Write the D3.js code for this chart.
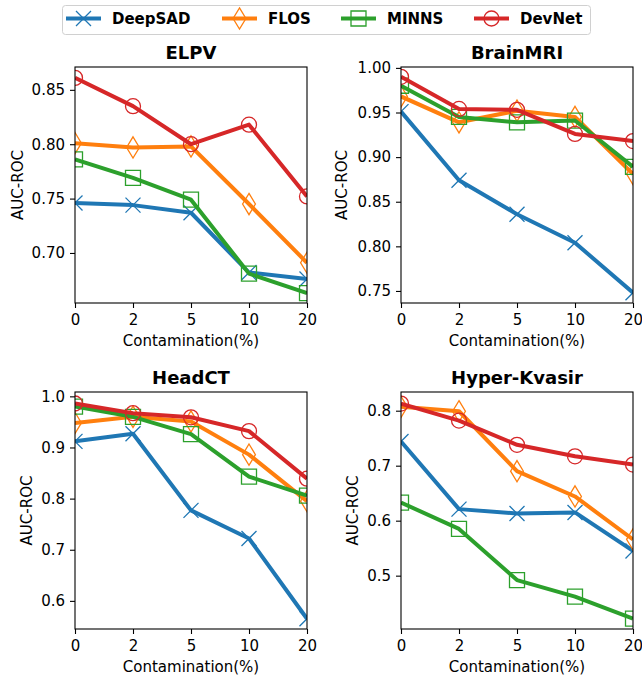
<!DOCTYPE html>
<html>
<head>
<meta charset="utf-8">
<script src="https://cdn.jsdelivr.net/npm/d3@7/dist/d3.min.js"></script>
<style>
body { margin: 0; background: #fff; }
text { font-family: "DejaVu Sans", sans-serif; fill: #000; }
</style>
</head>
<body>
<svg id="chart" width="642" height="676"></svg>
<script>
// contamination levels, shown as evenly spaced categories
const categories = ["0", "2", "5", "10", "20"];
const methods = ["DeepSAD", "FLOS", "MINNS", "DevNet"];
const colors = ["#1f77b4", "#ff7f0e", "#2ca02c", "#d62728"];
const markers = ["x", "thin_diamond", "square", "circle"];

// rows follow methods order
const elpvScores = [
    [0.746, 0.744, 0.737, 0.682, 0.676],
    [0.801, 0.797, 0.798, 0.745, 0.691],
    [0.786, 0.769, 0.749, 0.681, 0.663],
    [0.861, 0.835, 0.800, 0.818, 0.752]
];
const brainScores = [
    [0.951, 0.874, 0.836, 0.804, 0.748],
    [0.968, 0.939, 0.952, 0.945, 0.881],
    [0.980, 0.945, 0.939, 0.941, 0.889],
    [0.990, 0.954, 0.953, 0.926, 0.918]
];
const headScores = [
    [0.912, 0.927, 0.777, 0.722, 0.565],
    [0.948, 0.960, 0.951, 0.886, 0.795],
    [0.980, 0.960, 0.926, 0.843, 0.806],
    [0.986, 0.967, 0.959, 0.932, 0.839]
];
const kvasirScores = [
    [0.744, 0.621, 0.613, 0.615, 0.545],
    [0.807, 0.799, 0.690, 0.644, 0.566],
    [0.633, 0.585, 0.492, 0.462, 0.422],
    [0.813, 0.782, 0.738, 0.717, 0.702]
];

const elpvTicks = [0.70, 0.75, 0.80, 0.85];
const brainTicks = [0.75, 0.80, 0.85, 0.90, 0.95, 1.00];
const headTicks = [0.6, 0.7, 0.8, 0.9, 1.0];
const kvasirTicks = [0.5, 0.6, 0.7, 0.8];

const elpvLim = [0.654, 0.871];
const brainLim = [0.7365, 1.001];
const headLim = [0.545, 1.0085];
const kvasirLim = [0.403, 0.834];

const panels = [
    { name: "ELPV", scores: elpvScores, ticks: elpvTicks, lim: elpvLim, fmt: ".2f", box: [75, 67, 307, 303], labX: 23 },
    { name: "BrainMRI", scores: brainScores, ticks: brainTicks, lim: brainLim, fmt: ".2f", box: [401, 67, 633, 303], labX: 347 },
    { name: "HeadCT", scores: headScores, ticks: headTicks, lim: headLim, fmt: ".1f", box: [75, 392, 307, 629], labX: 32 },
    { name: "Hyper-Kvasir", scores: kvasirScores, ticks: kvasirTicks, lim: kvasirLim, fmt: ".1f", box: [401, 392, 633, 629], labX: 358 }
];

var svg = d3.select("#chart");

// marker shapes, roughly matplotlib ms=15
function markerPath(kind) {
    var h = 7.5;
    if (kind == "x") return `M${-h},${-h}L${h},${h}M${-h},${h}L${h},${-h}`;
    if (kind == "thin_diamond") return "M0,-10.6L6.4,0L0,10.6L-6.4,0Z";
    if (kind == "square") return `M${-h},${-h}H${h}V${h}H${-h}Z`;
    return d3.arc()({ innerRadius: 0, outerRadius: h, startAngle: 0, endAngle: 2 * Math.PI });
}

function circlePath(r) {
    return `M${r},0A${r},${r} 0 1,1 ${-r},0A${r},${r} 0 1,1 ${r},0Z`;
}

function drawMarker(g, kind, color, cx, cy) {
    var d = kind == "circle" ? circlePath(7.5) : markerPath(kind);
    g.append("path")
        .attr("d", d)
        .attr("transform", `translate(${cx},${cy})`)
        .attr("fill", "none")
        .attr("stroke", color)
        .attr("stroke-width", 1.3);
}

panels.forEach(function (p, pi) {
    var [left, top, right, bottom] = p.box;
    var x = d3.scalePoint().domain(categories).range([left, right]).padding(0);
    var y = d3.scaleLinear().domain(p.lim).range([bottom, top]);

    var g = svg.append("g");

    svg.append("clipPath").attr("id", "clip" + pi)
        .append("rect").attr("x", left).attr("y", top)
        .attr("width", right - left).attr("height", bottom - top);

    var plot = g.append("g").attr("clip-path", `url(#clip${pi})`);
    var line = d3.line().x((d, i) => x(categories[i])).y(d => y(d));

    p.scores.forEach(function (vals, si) {
        plot.append("path")
            .datum(vals)
            .attr("d", line)
            .attr("fill", "none")
            .attr("stroke", colors[si])
            .attr("stroke-width", 4)
            .attr("stroke-linejoin", "round");
        vals.forEach(function (v, i) {
            drawMarker(plot, markers[si], colors[si], x(categories[i]), y(v));
        });
    });

    // axes
    var yAxis = d3.axisLeft(y).tickValues(p.ticks).tickFormat(d3.format(p.fmt))
        .tickSize(5).tickPadding(5);
    var xAxis = d3.axisBottom(x).tickSize(5).tickPadding(6);

    var ya = g.append("g").attr("transform", `translate(${left},0)`).call(yAxis);
    var xa = g.append("g").attr("transform", `translate(0,${bottom})`).call(xAxis);
    [ya, xa].forEach(function (a) {
        a.select(".domain").remove();
        a.selectAll(".tick line").attr("stroke", "#000").attr("stroke-width", 1.1);
        a.selectAll("text").attr("font-size", 15).attr("font-family", "DejaVu Sans").attr("fill", "#000");
    });

    g.append("rect")
        .attr("x", left).attr("y", top)
        .attr("width", right - left).attr("height", bottom - top)
        .attr("fill", "none").attr("stroke", "#000").attr("stroke-width", 1.1);

    g.append("text")
        .attr("x", (left + right) / 2).attr("y", top - 8.5)
        .attr("text-anchor", "middle")
        .attr("font-size", 18).attr("font-weight", "bold")
        .text(p.name);

    g.append("text")
        .attr("x", (left + right) / 2).attr("y", bottom + 43)
        .attr("text-anchor", "middle")
        .attr("font-size", 15)
        .text("Contamination(%)");

    g.append("text")
        .attr("transform", `translate(${p.labX},${(top + bottom) / 2}) rotate(-90)`)
        .attr("text-anchor", "middle")
        .attr("font-size", 15)
        .text("AUC-ROC");
});

// legend
var legendX = [66, 222, 341, 474];
var lg = svg.append("g");
lg.append("rect")
    .attr("x", 62.5).attr("y", 5.5).attr("width", 528).attr("height", 29)
    .attr("rx", 3).attr("fill", "#fff").attr("stroke", "#d0d0d0").attr("stroke-width", 1);

methods.forEach(function (m, i) {
    var lx = legendX[i], ly = 18.5;
    lg.append("line")
        .attr("x1", lx).attr("x2", lx + 35).attr("y1", ly).attr("y2", ly)
        .attr("stroke", colors[i]).attr("stroke-width", 4);
    drawMarker(lg, markers[i], colors[i], lx + 17.5, ly);
    lg.append("text")
        .attr("x", lx + 46).attr("y", ly).attr("dy", "0.35em")
        .attr("font-size", 15).attr("font-weight", "bold")
        .text(m);
});
</script>
</body>
</html>
